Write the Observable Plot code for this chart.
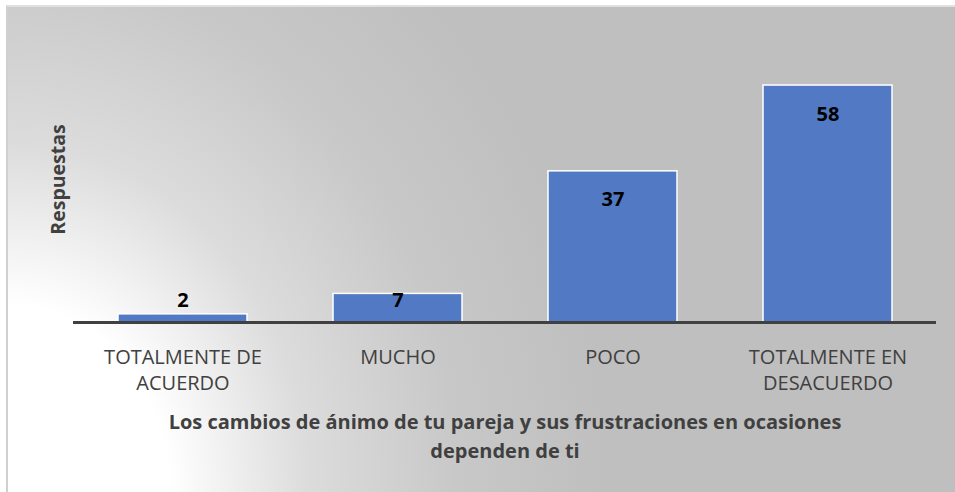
<!DOCTYPE html>
<html>
<head>
<meta charset="utf-8">
<script src="https://cdn.jsdelivr.net/npm/d3@7"></script>
<script src="https://cdn.jsdelivr.net/npm/@observablehq/plot@0.6"></script>
<style>
  html, body { margin: 0; padding: 0; background: #ffffff; }
  #wrap { position: relative; width: 955px; height: 492px; overflow: hidden; background: #ffffff; }
  #area {
    position: absolute; left: 6px; top: 5px; width: 960px; height: 500px;
    border-left: 2px solid #d0d0d0; border-top: 2px solid #e0e0e0;
    background: radial-gradient(ellipse 600px 700px at 0px 487px, #ffffff 0%, #ffffff 27%, #dcdcdc 50%, #c8c8c8 75%, #bfbfbf 100%);
  }
  #chart { position: absolute; left: 0; top: 0; }
  #chart svg { background: transparent; overflow: visible; }
</style>
</head>
<body>
<div id="wrap"><div id="area"></div><div id="chart"></div></div>
<script>
const categories = ["TOTALMENTE DE\nACUERDO", "MUCHO", "POCO", "TOTALMENTE EN\nDESACUERDO"];
const values = [2, 7, 37, 58];
const xTitle = "Los cambios de ánimo de tu pareja y sus frustraciones en ocasiones\ndependen de ti";
const yTitle = "Respuestas";

const data = categories.map((c, i) => ({category: c, value: values[i]}));
const font = "'Open Sans', sans-serif";

const chart = Plot.plot({
  width: 955,
  height: 492,
  marginLeft: 73,
  marginRight: 19,
  marginTop: 36,
  marginBottom: 170,
  style: {fontFamily: font, background: "transparent", overflow: "visible"},
  x: {domain: categories, paddingInner: 0.4, paddingOuter: 0.2, label: null},
  y: {domain: [0, 70], axis: null},
  marks: [
    Plot.barY(data, {x: "category", y: "value", fill: "#5179c4", stroke: "#ffffff", strokeWidth: 1.5}),
    Plot.ruleY([0], {stroke: "#404040", strokeWidth: 3}),
    Plot.axisX({tickSize: 0, tickPadding: 23.5, fontSize: 20, fill: "#404040", lineHeight: 1.3, label: null, lineAnchor: "top"}),
    Plot.text(data, {x: "category", y: d => Math.max(d.value - 7, 5.3), text: d => String(d.value), fontSize: 20, fontWeight: "bold", fill: "#000000"}),
    Plot.text([xTitle], {frameAnchor: "bottom", dy: 85.5, lineAnchor: "top", lineHeight: 1.45, fontSize: 20, fontWeight: "bold", fill: "#404040"}),
    Plot.text([yTitle], {frameAnchor: "left", textAnchor: "middle", rotate: -90, dx: -15, fontSize: 19.5, fontWeight: "bold", fill: "#404040"})
  ]
});
document.getElementById("chart").appendChild(chart);
</script>
</body>
</html>
